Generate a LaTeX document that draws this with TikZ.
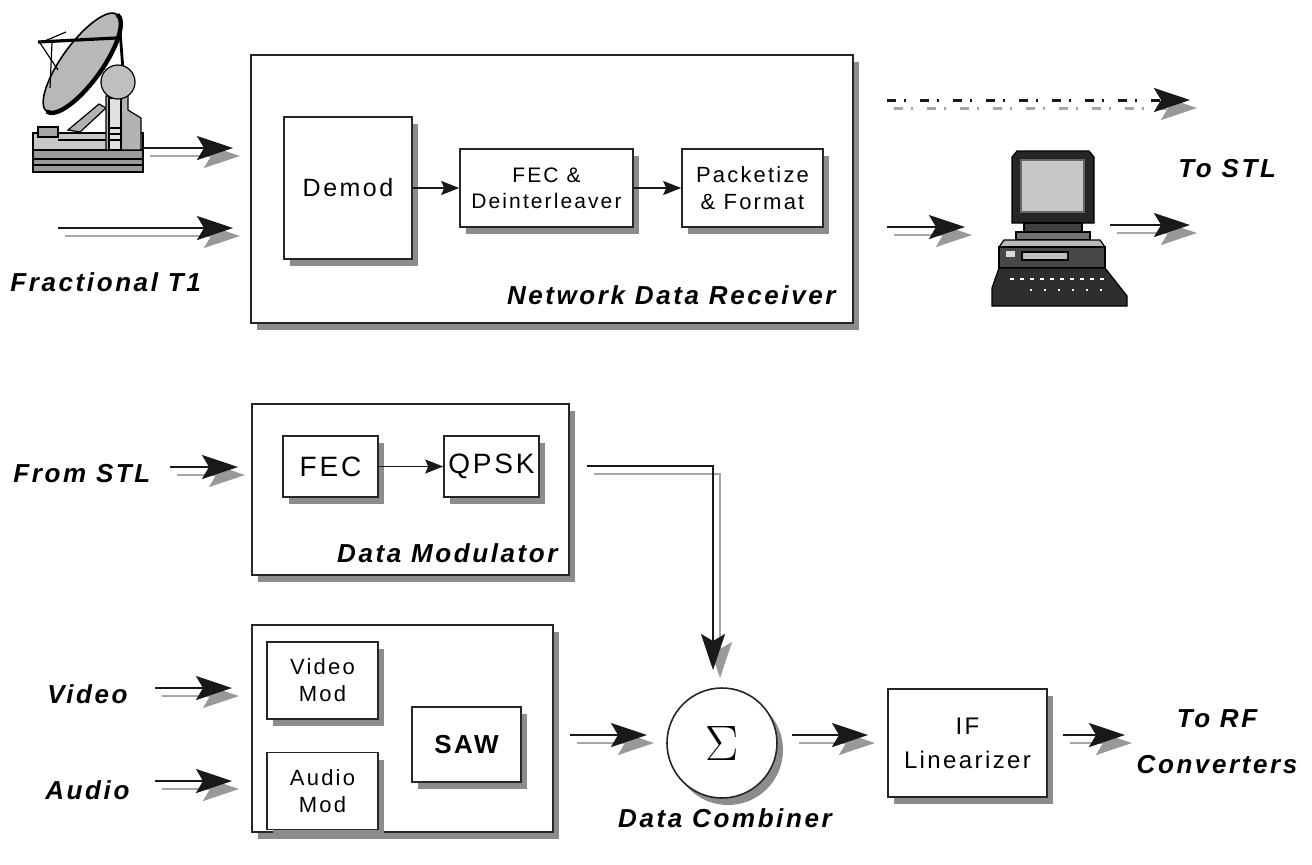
\documentclass[tikz,border=0pt]{standalone}
\usepackage{fontspec}
\setmainfont{Liberation Sans}[LetterSpace=10]
\usetikzlibrary{arrows.meta,shadows}

\tikzset{
  box/.style={draw=black!85, line width=0.8pt, fill=white, inner sep=0pt, align=center,
    drop shadow={shadow xshift=3pt, shadow yshift=-3.5pt, fill=black!45, opacity=1}},
  caption/.style={inner sep=0pt, font=\fontsize{13}{15}\selectfont\bfseries\itshape},
  flowmain/.style={line width=1.2pt, draw=black!90,
    -{Stealth[length=18pt, width=12pt, inset=3.5pt, fill=black!90]}},
  flowshade/.style={line width=1.1pt, draw=black!35,
    -{Stealth[length=18pt, width=12pt, inset=3.5pt, color=black!40, fill=black!40]}},
  inner/.style={line width=0.8pt, draw=black!90,
    -{Stealth[length=9pt, width=7pt, inset=1.5pt]}},
  dashdot/.style={line width=1.5pt, dash pattern=on 4.5pt off 4pt on 1pt off 7pt},
}

% a heavy arrow with its grey shadow copy, offset down and to the right
\newcommand\heavyflow[3][]{%
  \draw[flowshade,#1] ([shift={(7,8)}]#2) -- ([shift={(7,8)}]#3);
  \draw[flowmain,#1] (#2) -- (#3);}

\begin{document}
\begin{tikzpicture}[x=0.5pt, y=-0.5pt]
\useasboundingbox (0,0) rectangle (1312,864);

% ---------- satellite dish ----------
\begin{scope}[line width=0.6pt, draw=black]
  \filldraw[fill=black!40] (33,150) rectangle (143,172);
  \draw (33,159) -- (143,159);
  \draw (33,165) -- (143,165);
  \filldraw[fill=black!22] (33,133) rectangle (143,150);
  \filldraw[fill=black!35] (38,127) rectangle (58,137);
  \draw (58,140) -- (106,140);
  \filldraw[fill=black!30] (68,130) -- (99,104) -- (106,108) -- (80,132) -- cycle;
  \filldraw[fill=black!30] (106,96) -- (128,96) -- (128,110) -- (141,118) -- (141,150) -- (106,150) -- cycle;
  \filldraw[fill=black!12] (109,98) rectangle (121,150);
  \draw (109,128) -- (121,128);
  \draw (109,134) -- (121,134);
  \draw (109,140) -- (121,140);
  \draw[line width=1.4pt] (119,18) -- (123,70);
  \filldraw[fill=black!25] (118,82) circle (17);
  \begin{scope}[shift={(82,63)}, rotate=54]
    \filldraw[fill=black!28, line width=0.8pt] (0,0) ellipse (60 and 20);
    \draw[line width=2.2pt] (60,0) arc[start angle=0, end angle=180, x radius=60, y radius=20];
  \end{scope}
  \draw[line width=1.6pt] (38,42) -- (116,38);
  \draw (40,43) -- (58,70);
  \draw (52,43) -- (50,88);
  \draw (40,43) -- (66,32);
\end{scope}

% ---------- computer ----------
\begin{scope}[line width=0.6pt, draw=black]
  \filldraw[fill=black!85] (1012,157) -- (1017,151) -- (1089,151) -- (1094,157) -- (1094,223) -- (1012,223) -- cycle;
  \filldraw[fill=black!22, draw=black!60] (1021,160) rectangle (1084,212);
  \filldraw[fill=black!75] (1024,223) rectangle (1082,232);
  \filldraw[fill=black!55] (1016,232) rectangle (1090,240);
  \filldraw[fill=black!28] (1004,240) -- (1100,240) -- (1105,247) -- (999,247) -- cycle;
  \filldraw[fill=black!72] (999,247) rectangle (1105,268);
  \filldraw[fill=black!25] (1022,252) rectangle (1068,260);
  \fill[black!15] (1006,251) rectangle (1015,257);
  \filldraw[fill=black!82] (999,268) -- (1105,268) -- (1127,296) -- (1127,306) -- (992,306) -- (992,288) -- cycle;
  \draw[white, line width=1.2pt, dash pattern=on 2pt off 3pt] (1010,279) -- (1104,279);
  \draw[white, line width=0.8pt, dash pattern=on 1pt off 6pt] (1030,290) -- (1112,290);
\end{scope}

% ---------- network data receiver ----------
\node[box, minimum width=301pt, minimum height=134pt] (ndr) at (552,189) {};
\node[box, minimum width=64pt, minimum height=71pt,
      font=\fontsize{12.5}{15}\selectfont] (demod) at (348,188) {Demod};
\node[box, minimum width=86.5pt, minimum height=39pt,
      font=\fontsize{10.5}{13}\selectfont] (fecd) at (546.5,188) {FEC \&\\Deinterleaver};
\node[box, minimum width=70.5pt, minimum height=39pt,
      font=\fontsize{11}{13.5}\selectfont] (pack) at (752.5,188) {Packetize\\\& Format};
\draw[inner] (demod.east) -- (fecd.west);
\draw[inner] (fecd.east) -- (pack.west);
\node[caption, anchor=base east] (ndrlabel) at (836,304) {Network Data Receiver};

% ---------- data modulator ----------
\node[box, minimum width=158.5pt, minimum height=85.5pt] (dmod) at (410.5,489.5) {};
\node[box, minimum width=47.5pt, minimum height=30.5pt,
      font=\fontsize{14}{16}\selectfont] (fec) at (330.5,466.5) {FEC};
\node[box, minimum width=47.5pt, minimum height=30.5pt,
      font=\fontsize{14}{16}\selectfont] (qpsk) at (491.5,466.5) {QPSK};
\draw[inner] (fec.east) -- (qpsk.west);
\node[caption, anchor=base east] (dmodlabel) at (558,562) {Data Modulator};

% ---------- video / audio modulator ----------
\node[box, minimum width=150.5pt, minimum height=103.5pt] (avmod) at (402.5,728.5) {};
\node[box, minimum width=55.5pt, minimum height=38.5pt,
      font=\fontsize{11}{13.5}\selectfont] (vmod) at (322.5,680.5) {Video\\Mod};
\node[box, minimum width=55.5pt, minimum height=38.5pt,
      font=\fontsize{11}{13.5}\selectfont] (amod) at (322.5,791) {Audio\\Mod};
\node[box, minimum width=54.5pt, minimum height=37.5pt,
      font=\fontsize{13}{15}\selectfont\bfseries] (saw) at (466.5,744.5) {SAW};

% ---------- combiner and IF ----------
\node[box, circle, minimum size=55pt] (sigma) at (722,743)
     {\fontsize{34}{34}\selectfont$\Sigma$};
\node[caption, anchor=base] (comblabel) at (725,827) {Data Combiner};
\node[box, minimum width=79.5pt, minimum height=54pt,
      font=\fontsize{12}{17}\selectfont] (ifl) at (967.5,743) {IF\\Linearizer};

% ---------- outside labels ----------
\node[caption, anchor=base west] (frac) at (10,291) {Fractional T1};
\node[caption, anchor=base west] (fromstl) at (13,482) {From STL};
\node[caption, anchor=base west] (video) at (47,703) {Video};
\node[caption, anchor=base west] (audio) at (45,799) {Audio};
\node[caption, anchor=base west] (tostl) at (1178,177) {To STL};
\node[caption, anchor=base, align=center] (torf1) at (1217,727) {To RF};
\node[caption, anchor=base, align=center] (torf2) at (1217,773) {Converters};

% ---------- arrow end points ----------
\coordinate (satout) at (143,148);
\coordinate (ndrin1) at (233,148);
\coordinate (fracout) at (58,228);
\coordinate (ndrin2) at (233,228);
\coordinate (linkout) at (887,100);
\coordinate (linktip) at (1190,100);
\coordinate (pcin0) at (887,227);
\coordinate (pcin) at (965,227);
\coordinate (pcout) at (1110,225);
\coordinate (pctip) at (1190,225);
\coordinate (stlout) at (170,467);
\coordinate (dmodin) at (238,467);
\coordinate (qpskout) at (587,466);
\coordinate (bend) at (713,466);
\coordinate (sigmatop) at (713,670);
\coordinate (videoout) at (155,688);
\coordinate (videoin) at (232,688);
\coordinate (audioout) at (155,781);
\coordinate (audioin) at (232,781);
\coordinate (avout) at (570,735);
\coordinate (sigmain) at (647,735);
\coordinate (sigmaout) at (792,735);
\coordinate (ifin) at (868,735);
\coordinate (ifout) at (1063,735);
\coordinate (rfin) at (1125,735);

% ---------- heavy arrows ----------
\heavyflow{satout}{ndrin1}
\heavyflow{fracout}{ndrin2}
\draw[flowshade, dashdot] ([shift={(7,8)}]linkout) -- ([shift={(7,8)}]linktip);
\draw[flowmain, dashdot] (linkout) -- (linktip);
\heavyflow{pcin0}{pcin}
\heavyflow{pcout}{pctip}
\heavyflow{stlout}{dmodin}
\draw[flowshade] ([shift={(7,8)}]qpskout) -- ([shift={(7,8)}]bend) -- ([shift={(7,8)}]sigmatop);
\draw[flowmain] (qpskout) -- (bend) -- (sigmatop);
\heavyflow{videoout}{videoin}
\heavyflow{audioout}{audioin}
\heavyflow{avout}{sigmain}
\heavyflow{sigmaout}{ifin}
\heavyflow{ifout}{rfin}
\end{tikzpicture}
\end{document}
